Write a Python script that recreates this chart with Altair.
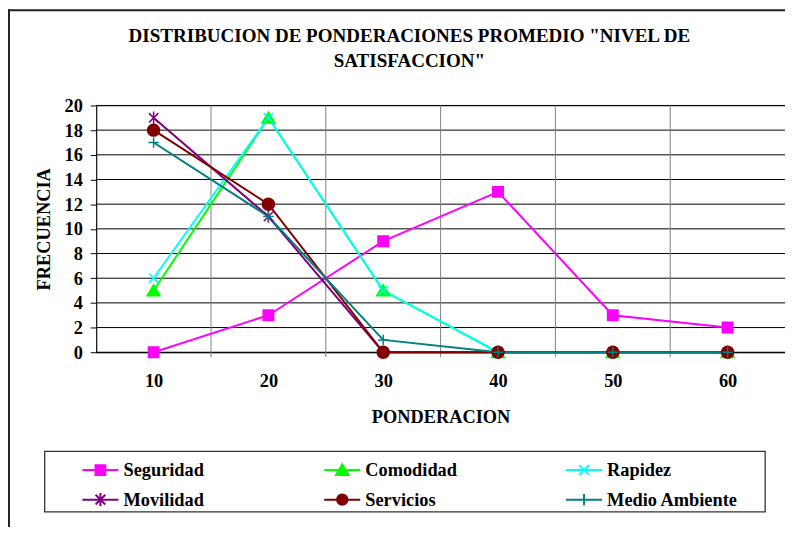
import altair as alt
import pandas as pd

# ---------------- data ----------------
ponderacion = [10, 20, 30, 40, 50, 60]
series = ["Seguridad", "Comodidad", "Rapidez", "Movilidad", "Servicios", "Medio Ambiente"]
seguridad = [0, 3, 9, 13, 3, 2]
comodidad = [5, 19, 5, 0, 0, 0]
rapidez = [6, 19, 5, 0, 0, 0]
movilidad = [19, 11, 0, 0, 0, 0]
servicios = [18, 12, 0, 0, 0, 0]
medio_ambiente = [17, 11, 1, 0, 0, 0]
values = [seguridad, comodidad, rapidez, movilidad, servicios, medio_ambiente]
y_ticks = [0, 2, 4, 6, 8, 10, 12, 14, 16, 18, 20]
band_edges = [15, 25, 35, 45, 55]
title_lines = ['DISTRIBUCION DE PONDERACIONES PROMEDIO "NIVEL DE', 'SATISFACCION"']

colors = ["#FF00FF", "#00FF00", "#00FFFF", "#800080", "#800000", "#008080"]

rows = []
for s, vals in zip(series, values):
    for p, v in zip(ponderacion, vals):
        rows.append({"ponderacion": p, "frecuencia": v, "serie": s})
df = pd.DataFrame(rows)

W, H = 695, 249
FONT = "Liberation Serif"
FS = 18.5

# marker paths for the plot
shape_plot = [
    "M-1,-1H1V1H-1Z",
    "M0,-1.1L1.25,1H-1.25Z",
    "M-0.9,-0.9L0.9,0.9M-0.9,0.9L0.9,-0.9",
    "M-0.9,-0.9L0.9,0.9M-0.9,0.9L0.9,-0.9M0,-1.2V1.2",
    "M1.15,0A1.15,1.15,0,1,1,-1.15,0A1.15,1.15,0,1,1,1.15,0Z",
    "M-1,0H1M0,-1V1",
]
# legend symbols: line + marker
L = "M-2.6,0H2.6"
shape_leg = [
    L + "M-0.7,-0.7H0.7V0.7H-0.7Z",
    L + "M0,-0.8L0.9,0.7H-0.9Z",
    L + "M-0.7,-0.7L0.7,0.7M-0.7,0.7L0.7,-0.7",
    L + "M-0.7,-0.7L0.7,0.7M-0.7,0.7L0.7,-0.7M0,-0.95V0.95",
    L + "M0.75,0A0.75,0.75,0,1,1,-0.75,0A0.75,0.75,0,1,1,0.75,0Z",
    L + "M0,-0.8V0.8",
]
# legend is laid out column by column: reorder so it reads row by row
leg_order = [0, 3, 1, 4, 2, 5]
leg_series = [series[i] for i in leg_order]
leg_colors = [colors[i] for i in leg_order]
leg_shapes = [shape_leg[i] for i in leg_order]

x_scale = alt.Scale(domain=[5, 65], nice=False, zero=False)
y_scale = alt.Scale(domain=[0, 20], nice=False)
x_axis = alt.Axis(values=ponderacion, ticks=False, grid=False, title="PONDERACION",
                  labelPadding=20, titlePadding=17, labelOverlap=False)
y_axis = alt.Axis(values=y_ticks, grid=False, tickSize=6, labelPadding=8,
                  title="FRECUENCIA", titlePadding=11, labelOverlap=False)


def X(field):
    return alt.X(field, scale=x_scale, axis=x_axis)


def Y(field):
    return alt.Y(field, scale=y_scale, axis=y_axis)


color_scale = alt.Scale(domain=series, range=colors)

hgrid = alt.Chart(pd.DataFrame({"t": y_ticks})).mark_rule(color="#000000", strokeWidth=1).encode(
    y=Y("t:Q"), x=alt.value(0), x2=alt.value(W)
)
vgrid = alt.Chart(pd.DataFrame({"b": band_edges})).mark_rule(color="#808080", strokeWidth=1).encode(
    x=X("b:Q"), y=alt.value(0), y2=alt.value(H + 5)
)

lines = alt.Chart(df).mark_line(strokeWidth=2).encode(
    x=X("ponderacion:Q"), y=Y("frecuencia:Q"),
    color=alt.Color("serie:N", scale=color_scale, legend=None),
)

points = alt.Chart(df).mark_point(filled=True, opacity=1, strokeWidth=1.5, size=110).encode(
    x=X("ponderacion:Q"), y=Y("frecuencia:Q"),
    fill=alt.Fill("serie:N", scale=color_scale, legend=None),
    stroke=alt.Stroke("serie:N", scale=color_scale, legend=None),
    shape=alt.Shape("serie:N", scale=alt.Scale(domain=series, range=shape_plot), legend=None),
)

leg = alt.Legend(
    title=None, orient="none", legendX=-5, legendY=358, columns=3, gridAlign="all",
    columnPadding=66, rowPadding=8.5, symbolSize=196, symbolStrokeWidth=2,
    labelOffset=14, labelFont=FONT, labelFontSize=FS, labelFontWeight="bold",
    labelColor="black", padding=0, symbolLimit=0,
)
leg_color_scale = alt.Scale(domain=leg_series, range=leg_colors)
legend_layer = alt.Chart(df).mark_point(filled=True, opacity=1).encode(
    fill=alt.Fill("serie:N", scale=leg_color_scale, legend=leg),
    stroke=alt.Stroke("serie:N", scale=leg_color_scale, legend=leg),
    shape=alt.Shape("serie:N", scale=alt.Scale(domain=leg_series, range=leg_shapes), legend=leg),
).transform_filter("false")

one = pd.DataFrame({"k": [0]})
legend_box = alt.Chart(one).mark_rect(filled=False, stroke="#333333", strokeWidth=1.3).encode(
    x=alt.value(-52), x2=alt.value(675), y=alt.value(349), y2=alt.value(410)
)
frame_left = alt.Chart(one).mark_rule(color="#222222", strokeWidth=2).encode(
    x=alt.value(-88), y=alt.value(-97), y2=alt.value(H + 200)
)
frame_top = alt.Chart(one).mark_rule(color="#222222", strokeWidth=2).encode(
    y=alt.value(-96), x=alt.value(-89), x2=alt.value(W + 20)
)
title_text = alt.Chart(one).mark_text(
    text=title_lines, font=FONT, fontSize=19.2, fontWeight="bold", color="black",
    align="center", baseline="alphabetic", lineHeight=26,
).encode(x=alt.value(316), y=alt.value(-64.5))

chart = alt.layer(
    frame_left, frame_top, hgrid, vgrid, lines, points, legend_layer, legend_box, title_text
).resolve_scale(
    fill="independent", stroke="independent", shape="independent"
).properties(
    width=W, height=H,
    autosize=alt.AutoSizeParams(type="none"),
    padding={"left": 89, "top": 96, "right": 0, "bottom": 174},
    background="white",
).configure_view(
    stroke="#808080", strokeWidth=1
).configure_axis(
    labelFont=FONT, labelFontSize=FS, labelFontWeight="bold", labelColor="black",
    titleFont=FONT, titleFontSize=FS, titleFontWeight="bold", titleColor="black",
    domainColor="black", domainWidth=1, tickColor="black", tickWidth=1,
)

chart.save("out.html", embed_options={"renderer": "svg", "actions": False})
